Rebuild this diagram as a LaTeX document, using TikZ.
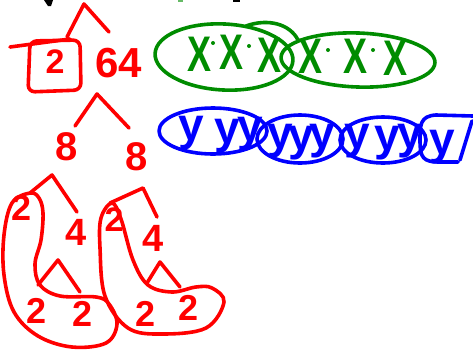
\documentclass[tikz,border=0pt]{standalone}
\usepackage{fontspec}
\setmainfont{Liberation Sans}
\definecolor{pred}{RGB}{255,0,0}
\definecolor{pgreen}{RGB}{0,140,0}
\definecolor{pblue}{RGB}{0,0,255}
\begin{document}
\begin{tikzpicture}[x=1pt,y=-1pt,line cap=round,line join=round,
  stroke/.style={line width=3.6pt},
  rd/.style={stroke,draw=pred},
  gr/.style={stroke,draw=pgreen},
  bl/.style={stroke,draw=pblue},
  dig/.style={text=pred,inner sep=0pt,font=\fontsize{#1}{#1}\selectfont\bfseries},
  xs/.style={text=pgreen,inner sep=0pt,font=\fontsize{50}{50}\selectfont},
  ys/.style={text=pblue,inner sep=0pt,font=\fontsize{46}{46}\selectfont\bfseries},
  gdot/.style={fill=pgreen,circle,inner sep=0pt,minimum size=4pt}]
\useasboundingbox (0,0) rectangle (473,349);
% fragments at the top edge
\fill[black] (44,0) -- (53,0) -- (51,6) -- (48,6) -- cycle;
\fill[black] (233,0) rectangle (240,2);
\fill[pgreen!60] (178,0) rectangle (183,1.5);
% top caret and box
\draw[rd] (67,37) -- (84,4) -- (109,32);
\draw[rd] (10,47) -- (70,39);
\draw[rd,rounded corners=7] (30,41) -- (80,40) -- (81,90) -- (28,92) -- cycle;
\node[dig=34] (b2) at (55,62) {2};
\node[dig=42] (n64) at (119,63) {64};
% second caret and 8s
\draw[rd] (75,126) -- (97,94) -- (129,128);
\node[dig=40] (e1) at (67,147) {8};
\node[dig=40] (e2) at (137,157) {8};
% left branch
\draw[rd] (30,193) -- (52,175) -- (77,212);
\node[dig=36] (l2) at (22,208) {2};
\node[dig=38] (l4) at (76,232) {4};
\draw[rd] (38,285) -- (58,260) -- (80,292);
\node[dig=36] (l2a) at (37,311) {2};
\node[dig=36] (l2b) at (83,314) {2};
\draw[rd] plot[smooth cycle,tension=0.6] coordinates {(30,193) (12,203) (4,235) (4,275) (14,312) (38,336) (72,347) (106,343) (117,324) (109,304) (96,297) (60,296) (40,285) (35,264) (41,240) (43,213) (39,198)};
% right branch
\draw[rd] (110,203) -- (143,188) -- (157,217);
\node[dig=34] (r2) at (114,220) {2};
\node[dig=38] (r4) at (153,238) {4};
\draw[rd] (147,283) -- (160,262) -- (180,287);
\node[dig=36] (r2a) at (146,314) {2};
\node[dig=36] (r2b) at (189,308) {2};
\draw[rd] plot[smooth cycle,tension=0.6] coordinates {(112,203) (101,218) (100,248) (105,296) (128,328) (162,334) (206,328) (224,302) (212,288) (196,287) (172,292) (148,285) (133,260) (121,219)};
% green
\draw[gr,rotate around={-3:(224,57)}] (224,57) ellipse [x radius=69,y radius=33];
\draw[gr,rotate around={-2:(358,60)}] (358,60) ellipse [x radius=77,y radius=27];
\draw[gr] (246,26) .. controls (268,18) and (290,24) .. (298,40);
\node[xs] (x1) at (200,54) {\scalebox{0.72}[1]{\textbf{X}}};
\node[xs] (x2) at (232,52) {\scalebox{0.72}[1]{\textbf{X}}};
\node[xs] (x3) at (270,55) {\scalebox{0.72}[1]{\textbf{X}}};
\node[xs] (x4) at (310,56) {\scalebox{0.72}[1]{\textbf{X}}};
\node[xs] (x5) at (355,56) {\scalebox{0.72}[1]{\textbf{X}}};
\node[xs] (x6) at (395,58) {\scalebox{0.72}[1]{\textbf{X}}};
\node[gdot] (d1) at (213,43) {};
\node[gdot] (d2) at (249,46) {};
\node[gdot] (d3) at (288,48) {};
\node[gdot] (d4) at (328,50) {};
\node[gdot] (d5) at (373,50) {};
% blue
\draw[bl] (213,131) ellipse [x radius=54,y radius=23];
\draw[bl] (300,139) ellipse [x radius=43,y radius=24];
\draw[bl] (383,140) ellipse [x radius=43,y radius=23];
\draw[bl] (473,116) -- (436,115) .. controls (420,116) and (420,125) .. (420,140) .. controls (420,158) and (423,162) .. (440,162) -- (458,162);
\draw[bl] (460,160) -- (472,121);
\node[ys] (y1) at (191,133) {y};
\node[ys] (y2) at (227,136) {y};
\node[ys] (y3) at (250,134) {y};
\node[ys] (y4) at (280,141) {y};
\node[ys] (y5) at (301,143) {y};
\node[ys] (y6) at (322,141) {y};
\node[ys] (y7) at (357,141) {y};
\node[ys] (y8) at (387,143) {y};
\node[ys] (y9) at (410,141) {y};
\node[ys] (y10) at (442,147) {y};
\end{tikzpicture}
\end{document}
